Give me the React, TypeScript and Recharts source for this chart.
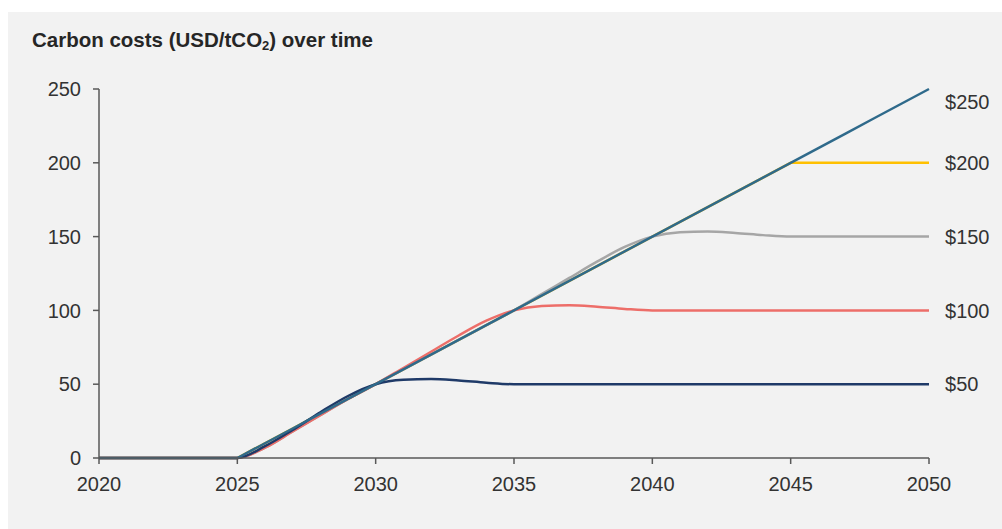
import { LineChart, Line, XAxis, YAxis } from "recharts";

const years = [
  2020, 2021, 2022, 2023, 2024, 2025, 2026, 2027, 2028, 2029, 2030, 2031, 2032,
  2033, 2034, 2035, 2036, 2037, 2038, 2039, 2040, 2041, 2042, 2043, 2044, 2045,
  2046, 2047, 2048, 2049, 2050,
];

// carbon price paths, USD/tCO2
const cap50 = [
  0, 0, 0, 0, 0, 0, 8, 19, 31, 42, 50, 53, 53.5, 52.5, 51, 50, 50, 50, 50, 50,
  50, 50, 50, 50, 50, 50, 50, 50, 50, 50, 50,
];
const cap100 = [
  0, 0, 0, 0, 0, 0, 7, 18, 29, 40, 50, 61, 72, 83, 93, 100, 103, 103.5, 102.5,
  101, 100, 100, 100, 100, 100, 100, 100, 100, 100, 100, 100,
];
const cap150 = [
  0, 0, 0, 0, 0, 0, 7, 18, 29, 40, 50, 60, 70, 80, 90, 100, 111, 122, 133, 143,
  150, 153, 153.5, 152.5, 151, 150, 150, 150, 150, 150, 150,
];
const cap200 = [
  0, 0, 0, 0, 0, 0, 10, 20, 30, 40, 50, 60, 70, 80, 90, 100, 110, 120, 130, 140,
  150, 160, 170, 180, 190, 200, 200, 200, 200, 200, 200,
];
const cap250 = [
  0, 0, 0, 0, 0, 0, 10, 20, 30, 40, 50, 60, 70, 80, 90, 100, 110, 120, 130, 140,
  150, 160, 170, 180, 190, 200, 210, 220, 230, 240, 250,
];

const yearTicks = [2020, 2025, 2030, 2035, 2040, 2045, 2050];
const valueTicks = [0, 50, 100, 150, 200, 250];

const data = years.map((year, i) => ({
  year,
  cap50: cap50[i],
  cap100: cap100[i],
  cap150: cap150[i],
  cap200: cap200[i],
  cap250: cap250[i],
}));

const textColor = "#333333";
const axisColor = "#595959";
const lastIndex = years.length - 1;

// "$xx" label at the end of each line
function endLabel(props: any) {
  const { x, y, value, index } = props;
  if (index !== lastIndex) return null;
  // top label sits a bit lower than its line in the original
  const shift = value === 250 ? 13 : 0;
  return (
    <text
      key={`end-${value}`}
      x={x + 16}
      y={y + shift}
      dy="0.355em"
      textAnchor="start"
      fill={textColor}
      fontSize={20}
    >
      ${value}
    </text>
  );
}

export default function App() {
  return (
    <>
      <style>{`body{margin:0}`}</style>
      <div
        style={{
          position: "absolute",
          left: 8,
          top: 12,
          width: 994,
          height: 517,
          background: "#f2f2f2",
          fontFamily: "'Liberation Sans', Arial, sans-serif",
          overflow: "hidden",
        }}
      >
        <div
          style={{
            position: "absolute",
            left: 24,
            top: 18,
            fontSize: 20.5,
            lineHeight: "20px",
            fontWeight: "bold",
            color: "#262626",
            whiteSpace: "nowrap",
          }}
        >
          Carbon costs (USD/tCO
          <sub style={{ fontSize: 13, verticalAlign: "-3px", lineHeight: 0 }}>
            2
          </sub>
          ) over time
        </div>
        <LineChart
          width={994}
          height={517}
          data={data}
          margin={{ top: 77, right: 73, bottom: 41, left: 0 }}
        >
          <XAxis
            dataKey="year"
            type="number"
            domain={[2020, 2050]}
            ticks={yearTicks}
            height={30}
            tickSize={6}
            tickMargin={13}
            axisLine={{ stroke: axisColor, strokeWidth: 1.5 }}
            tickLine={{ stroke: axisColor, strokeWidth: 1.5 }}
            tick={{ fill: textColor, fontSize: 20 }}
          />
          <YAxis
            domain={[0, 250]}
            ticks={valueTicks}
            width={91}
            tickSize={6}
            tickMargin={12}
            axisLine={{ stroke: axisColor, strokeWidth: 1.5 }}
            tickLine={{ stroke: axisColor, strokeWidth: 1.5 }}
            tick={{ fill: textColor, fontSize: 20 }}
          />
          <Line
            dataKey="cap200"
            type="linear"
            stroke="#ffc000"
            strokeWidth={2.5}
            dot={false}
            activeDot={false}
            label={endLabel}
            isAnimationActive={false}
          />
          <Line
            dataKey="cap150"
            type="monotone"
            stroke="#a6a6a6"
            strokeWidth={2.5}
            dot={false}
            activeDot={false}
            label={endLabel}
            isAnimationActive={false}
          />
          <Line
            dataKey="cap100"
            type="monotone"
            stroke="#ed6e69"
            strokeWidth={2.5}
            dot={false}
            activeDot={false}
            label={endLabel}
            isAnimationActive={false}
          />
          <Line
            dataKey="cap50"
            type="monotone"
            stroke="#1f3a68"
            strokeWidth={2.5}
            dot={false}
            activeDot={false}
            label={endLabel}
            isAnimationActive={false}
          />
          <Line
            dataKey="cap250"
            type="linear"
            stroke="#2f6a8b"
            strokeWidth={2.5}
            dot={false}
            activeDot={false}
            label={endLabel}
            isAnimationActive={false}
          />
        </LineChart>
      </div>
    </>
  );
}
